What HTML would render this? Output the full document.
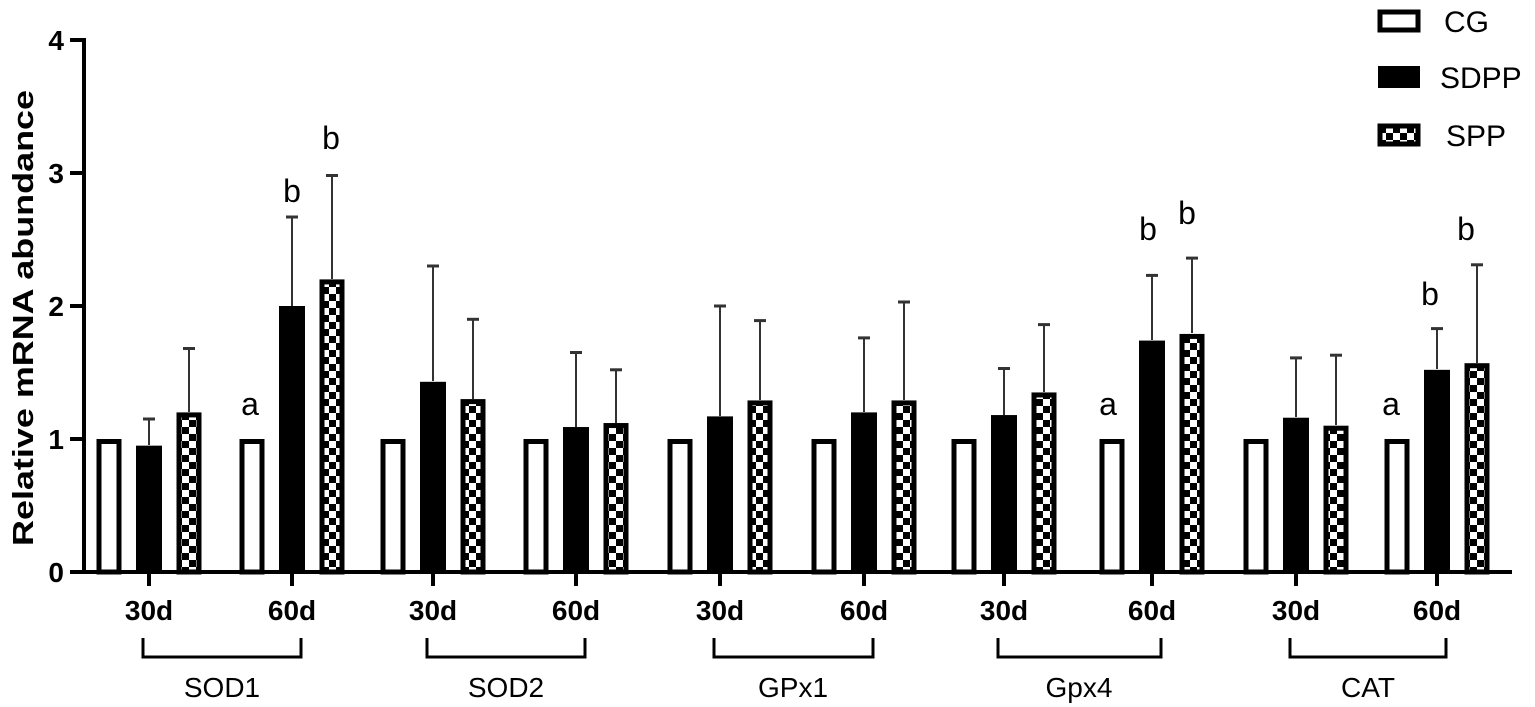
<!DOCTYPE html>
<html><head><meta charset="utf-8"><style>
html,body{margin:0;padding:0;background:#fff;}
svg{display:block;}
text{font-family:"Liberation Sans",Arial,sans-serif;fill:#000;}
</style></head><body>
<svg width="1535" height="707" viewBox="0 0 1535 707" xmlns="http://www.w3.org/2000/svg">
<defs>
<pattern id="chk" width="14" height="14" patternUnits="userSpaceOnUse">
<rect width="14" height="14" fill="#000"/>
<rect x="0" y="0" width="7" height="7" fill="#fff"/>
<rect x="7" y="7" width="7" height="7" fill="#fff"/>
</pattern>
</defs>
<line x1="84" y1="38" x2="84" y2="574" stroke="#000" stroke-width="4"/>
<line x1="70" y1="572" x2="1512" y2="572" stroke="#000" stroke-width="4"/>
<g stroke="#000" stroke-width="4">
<line x1="70" y1="40" x2="84" y2="40"/><line x1="70" y1="173" x2="84" y2="173"/>
<line x1="70" y1="306" x2="84" y2="306"/><line x1="70" y1="439" x2="84" y2="439"/>
</g>
<g font-size="28" font-weight="bold" text-anchor="end">
<text x="64" y="50">4</text><text x="64" y="183">3</text><text x="64" y="316">2</text>
<text x="64" y="449">1</text><text x="64" y="582">0</text>
</g>
<text transform="translate(33,318) rotate(-90)" font-size="29" font-weight="bold" text-anchor="middle" textLength="456" lengthAdjust="spacingAndGlyphs">Relative mRNA abundance</text>

<!-- CG bars -->
<g fill="#fff" stroke="#000" stroke-width="5">
<rect x="99" y="441.5" width="20" height="130.5"/>
<rect x="242" y="441.5" width="20" height="130.5"/>
<rect x="383" y="441.5" width="20" height="130.5"/>
<rect x="526" y="441.5" width="20" height="130.5"/>
<rect x="670" y="441.5" width="20" height="130.5"/>
<rect x="814" y="441.5" width="20" height="130.5"/>
<rect x="954" y="441.5" width="20" height="130.5"/>
<rect x="1102" y="441.5" width="20" height="130.5"/>
<rect x="1246" y="441.5" width="20" height="130.5"/>
<rect x="1387" y="441.5" width="20" height="130.5"/>
</g>
<!-- error bars -->
<g stroke="#333" stroke-width="2">
<line x1="149" y1="445" x2="149" y2="419"/><line x1="189" y1="412" x2="189" y2="348.5"/>
<line x1="292" y1="306" x2="292" y2="217"/><line x1="332" y1="279" x2="332" y2="175.5"/>
<line x1="433" y1="381" x2="433" y2="266"/><line x1="473" y1="399" x2="473" y2="319.3"/>
<line x1="576" y1="427" x2="576" y2="352.5"/><line x1="616" y1="423" x2="616" y2="369.8"/>
<line x1="720" y1="416" x2="720" y2="306"/><line x1="760" y1="400" x2="760" y2="320.6"/>
<line x1="864" y1="412" x2="864" y2="337.9"/><line x1="904" y1="400" x2="904" y2="302"/>
<line x1="1004" y1="415" x2="1004" y2="368.5"/><line x1="1044" y1="392" x2="1044" y2="324.6"/>
<line x1="1152" y1="340" x2="1152" y2="275.4"/><line x1="1192" y1="333" x2="1192" y2="258.1"/>
<line x1="1296" y1="417" x2="1296" y2="357.9"/><line x1="1336" y1="425" x2="1336" y2="355.2"/>
<line x1="1437" y1="369" x2="1437" y2="328.6"/><line x1="1477" y1="363" x2="1477" y2="264.8"/>
</g>
<g stroke="#333" stroke-width="3">
<line x1="143" y1="419" x2="155" y2="419"/><line x1="183" y1="348.5" x2="195" y2="348.5"/>
<line x1="286" y1="217" x2="298" y2="217"/><line x1="326" y1="175.5" x2="338" y2="175.5"/>
<line x1="427" y1="266" x2="439" y2="266"/><line x1="467" y1="319.3" x2="479" y2="319.3"/>
<line x1="570" y1="352.5" x2="582" y2="352.5"/><line x1="610" y1="369.8" x2="622" y2="369.8"/>
<line x1="714" y1="306" x2="726" y2="306"/><line x1="754" y1="320.6" x2="766" y2="320.6"/>
<line x1="858" y1="337.9" x2="870" y2="337.9"/><line x1="898" y1="302" x2="910" y2="302"/>
<line x1="998" y1="368.5" x2="1010" y2="368.5"/><line x1="1038" y1="324.6" x2="1050" y2="324.6"/>
<line x1="1146" y1="275.4" x2="1158" y2="275.4"/><line x1="1186" y1="258.1" x2="1198" y2="258.1"/>
<line x1="1290" y1="357.9" x2="1302" y2="357.9"/><line x1="1330" y1="355.2" x2="1342" y2="355.2"/>
<line x1="1431" y1="328.6" x2="1443" y2="328.6"/><line x1="1471" y1="264.8" x2="1483" y2="264.8"/>
</g>
<!-- SDPP bars -->
<g fill="#000">
<rect x="136" y="445.65" width="26" height="126.35"/>
<rect x="279" y="306" width="26" height="266"/>
<rect x="420" y="381.81" width="26" height="190.19"/>
<rect x="563" y="427.03" width="26" height="144.97"/>
<rect x="707" y="416.39" width="26" height="155.61"/>
<rect x="851" y="412.4" width="26" height="159.6"/>
<rect x="991" y="415.06" width="26" height="156.94"/>
<rect x="1139" y="340.58" width="26" height="231.42"/>
<rect x="1283" y="417.72" width="26" height="154.28"/>
<rect x="1424" y="369.84" width="26" height="202.16"/>
</g>
<!-- SPP bars -->
<g fill="url(#chk)" stroke="#000" stroke-width="5">
<rect x="179" y="414.9" width="20" height="157.1"/>
<rect x="322" y="281.9" width="20" height="290.1"/>
<rect x="463" y="401.6" width="20" height="170.4"/>
<rect x="606" y="425.54" width="20" height="146.46"/>
<rect x="750" y="402.93" width="20" height="169.07"/>
<rect x="894" y="402.93" width="20" height="169.07"/>
<rect x="1034" y="394.95" width="20" height="177.05"/>
<rect x="1182" y="336.43" width="20" height="235.57"/>
<rect x="1326" y="428.2" width="20" height="143.8"/>
<rect x="1467" y="365.69" width="20" height="206.31"/>
</g>
<!-- x ticks -->
<g stroke="#000" stroke-width="4">
<line x1="149" y1="572" x2="149" y2="586"/><line x1="292" y1="572" x2="292" y2="586"/>
<line x1="433" y1="572" x2="433" y2="586"/><line x1="576" y1="572" x2="576" y2="586"/>
<line x1="720" y1="572" x2="720" y2="586"/><line x1="864" y1="572" x2="864" y2="586"/>
<line x1="1004" y1="572" x2="1004" y2="586"/><line x1="1152" y1="572" x2="1152" y2="586"/>
<line x1="1296" y1="572" x2="1296" y2="586"/><line x1="1437" y1="572" x2="1437" y2="586"/>
</g>
<g font-size="28" font-weight="bold" text-anchor="middle">
<text x="149" y="620">30d</text><text x="292" y="620">60d</text>
<text x="433" y="620">30d</text><text x="576" y="620">60d</text>
<text x="720" y="620">30d</text><text x="864" y="620">60d</text>
<text x="1004" y="620">30d</text><text x="1152" y="620">60d</text>
<text x="1296" y="620">30d</text><text x="1437" y="620">60d</text>
</g>
<!-- brackets -->
<g fill="none" stroke="#000" stroke-width="3">
<path d="M143 638 V657 H301 V638"/>
<path d="M427 638 V657 H585 V638"/>
<path d="M714 638 V657 H873 V638"/>
<path d="M998 638 V657 H1161 V638"/>
<path d="M1290 638 V657 H1446 V638"/>
</g>
<g font-size="28" text-anchor="middle">
<text x="222" y="697">SOD1</text><text x="506" y="697">SOD2</text>
<text x="793" y="697">GPx1</text><text x="1079" y="697">Gpx4</text>
<text x="1368" y="697">CAT</text>
</g>
<!-- letters -->
<g font-size="32" text-anchor="middle">
<text x="250" y="415">a</text><text x="292" y="202">b</text><text x="331" y="149">b</text>
<text x="1108" y="415">a</text><text x="1148" y="240">b</text><text x="1187" y="224">b</text>
<text x="1391" y="415">a</text><text x="1430" y="305">b</text><text x="1466" y="240">b</text>
</g>
<!-- legend -->
<rect x="1380" y="12" width="38" height="18" fill="#fff" stroke="#000" stroke-width="5"/>
<rect x="1378" y="66" width="42" height="22" fill="#000"/>
<rect x="1380" y="126" width="38" height="18" fill="url(#chk)" stroke="#000" stroke-width="5"/>
<g font-size="30"><text x="1444" y="32">CG</text><text x="1440" y="88">SDPP</text><text x="1446" y="146">SPP</text></g>
</svg>
</body></html>
